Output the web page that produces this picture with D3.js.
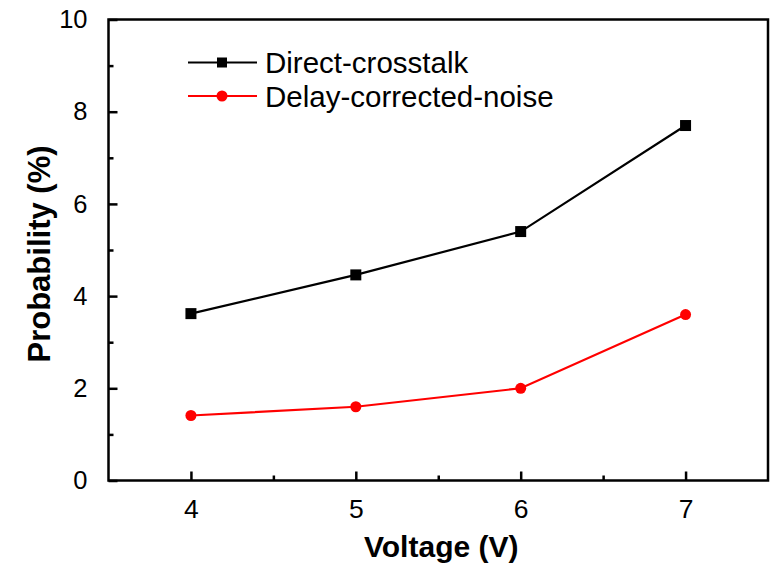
<!DOCTYPE html>
<html>
<head>
<meta charset="utf-8">
<script src="https://cdn.jsdelivr.net/npm/d3@7"></script>
<style>
  html, body { margin: 0; padding: 0; background: #fff; }
  svg { display: block; font-family: "Liberation Sans", Arial, sans-serif; }
</style>
</head>
<body>
<svg id="chart" width="771" height="564"></svg>
<script>
// Bias voltage (V)
const voltages = [4, 5, 6, 7];
// Probability (%) for each series
const directCrosstalk = [3.62, 4.46, 5.4, 7.7];
const delayCorrectedNoise = [1.41, 1.6, 2.0, 3.6];
// Axis ticks
const xTicks = [4, 5, 6, 7];
const xMinorTicks = [4.5, 5.5, 6.5];
const yTicks = [0, 2, 4, 6, 8, 10];
const yMinorTicks = [1, 3, 5, 7, 9];
const seriesNames = ["Direct-crosstalk", "Delay-corrected-noise"];
const seriesColors = ["#000000", "#ff0000"];

const svg = d3.select("#chart");
const margin = { left: 108.5, right: 3, top: 19.5, bottom: 83.5 };
const W = 771, H = 564;

const x = d3.scaleLinear().domain([3.5, 7.5]).range([margin.left, W - margin.right]);
const y = d3.scaleLinear().domain([0, 10]).range([H - margin.bottom, margin.top]);

// Plot frame
svg.append("rect")
  .attr("x", x(3.5)).attr("y", y(10))
  .attr("width", x(7.5) - x(3.5)).attr("height", y(0) - y(10))
  .attr("fill", "none").attr("stroke", "#000").attr("stroke-width", 2.5);

// Bottom axis: inward ticks
const xAxis = d3.axisBottom(x).tickValues(xTicks).tickSizeInner(-9).tickSizeOuter(0)
  .tickFormat(d3.format("d")).tickPadding(19);
const gx = svg.append("g").attr("transform", `translate(0,${y(0)})`).call(xAxis);
gx.select(".domain").remove();
gx.selectAll(".tick line").attr("stroke-width", 2.5);
gx.selectAll(".tick text").attr("font-size", 26.5).attr("fill", "#000")
  .attr("font-family", "Liberation Sans, Arial, sans-serif");

const gxm = svg.append("g").attr("transform", `translate(0,${y(0)})`)
  .call(d3.axisBottom(x).tickValues(xMinorTicks).tickSizeInner(-5).tickSizeOuter(0).tickFormat(""));
gxm.select(".domain").remove();
gxm.selectAll(".tick line").attr("stroke-width", 2.5);

// Left axis: inward ticks
const yAxis = d3.axisLeft(y).tickValues(yTicks).tickSizeInner(-9).tickSizeOuter(0)
  .tickFormat(d3.format("d")).tickPadding(21);
const gy = svg.append("g").attr("transform", `translate(${x(3.5)},0)`).call(yAxis);
gy.select(".domain").remove();
gy.selectAll(".tick line").attr("stroke-width", 2.5);
gy.selectAll(".tick text").attr("font-size", 25.5).attr("fill", "#000")
  .attr("font-family", "Liberation Sans, Arial, sans-serif");

const gym = svg.append("g").attr("transform", `translate(${x(3.5)},0)`)
  .call(d3.axisLeft(y).tickValues(yMinorTicks).tickSizeInner(-5).tickSizeOuter(0).tickFormat(""));
gym.select(".domain").remove();
gym.selectAll(".tick line").attr("stroke-width", 2.5);

// Axis titles
svg.append("text")
  .attr("x", (x(3.5) + x(7.5)) / 2 + 3).attr("y", 557)
  .attr("text-anchor", "middle").attr("font-size", 30).attr("font-weight", "bold")
  .text("Voltage (V)");

svg.append("text")
  .attr("transform", `translate(50,254) rotate(-90)`)
  .attr("text-anchor", "middle").attr("font-size", 31).attr("font-weight", "bold")
  .text("Probability (%)");

// Series
const line = d3.line().x((d, i) => x(voltages[i])).y(d => y(d));
const series = [directCrosstalk, delayCorrectedNoise];

series.forEach((vals, k) => {
  svg.append("path").datum(vals).attr("d", line)
    .attr("fill", "none").attr("stroke", seriesColors[k]).attr("stroke-width", 2.2);
});

// Square markers for the first series
svg.selectAll("rect.sq").data(directCrosstalk).enter().append("rect")
  .attr("class", "sq")
  .attr("x", (d, i) => x(voltages[i]) - 5.5).attr("y", d => y(d) - 5.5)
  .attr("width", 11).attr("height", 11).attr("fill", seriesColors[0]);

// Round markers for the second series
svg.selectAll("circle.dot").data(delayCorrectedNoise).enter().append("circle")
  .attr("class", "dot")
  .attr("cx", (d, i) => x(voltages[i])).attr("cy", d => y(d))
  .attr("r", 5.5).attr("fill", seriesColors[1]);

// Legend
const legend = svg.append("g");
const legendRows = [62.5, 96];
seriesNames.forEach((name, k) => {
  const ly = legendRows[k];
  legend.append("line").attr("x1", 188).attr("x2", 257).attr("y1", ly).attr("y2", ly)
    .attr("stroke", seriesColors[k]).attr("stroke-width", 2.2);
  if (k === 0) {
    legend.append("rect").attr("x", 222 - 5).attr("y", ly - 5).attr("width", 10).attr("height", 10)
      .attr("fill", seriesColors[k]);
  } else {
    legend.append("circle").attr("cx", 222).attr("cy", ly).attr("r", 5.5).attr("fill", seriesColors[k]);
  }
  legend.append("text").attr("x", 265).attr("y", ly).attr("dy", "0.36em")
    .attr("font-size", 29.5).attr("fill", "#000").text(name);
});
</script>
</body>
</html>
